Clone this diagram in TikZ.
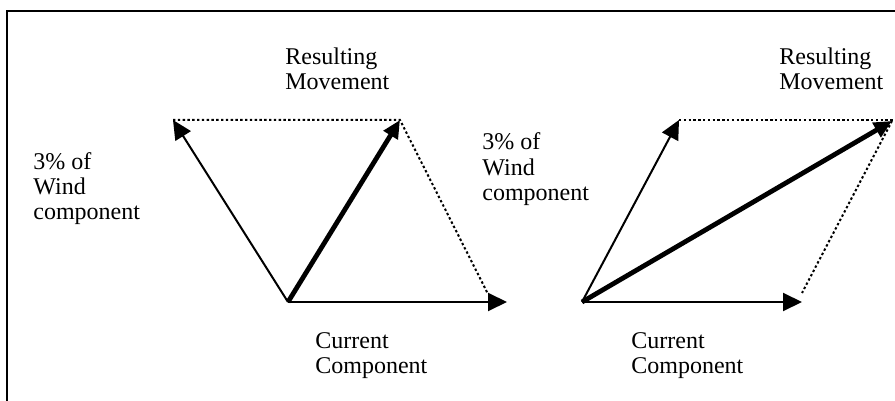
\documentclass[tikz,border=0pt]{standalone}
\usepackage{fontspec}
\setmainfont{Liberation Serif}
\usetikzlibrary{arrows.meta}

\begin{document}
\begin{tikzpicture}[x=0.5pt,y=-0.5pt,
    vec/.style={line width=1pt,-{Triangle[length=9.5pt,width=9pt]}},
    resvec/.style={line width=2.4pt,-{Triangle[length=9pt,width=8pt]}},
    guide/.style={line width=1pt,dash pattern=on 1.2pt off 1.2pt},
    lbl/.style={inner sep=0pt,anchor=base west,align=left,font=\fontsize{12}{12.5}\selectfont}]
    \useasboundingbox (0,0) rectangle (895,401);

    % frame (only top and left edge show)
    \draw[line width=1pt] (7,401) -- (7,11) -- (895,11);

    %Left
    \coordinate (oL) at (288,302);
    \coordinate (curL) at (507,302);
    \coordinate (windL) at (173,120);
    \coordinate (resL) at (400,120);
    \coordinate (endL) at (488,294);
    \draw[guide] (windL) -- (resL) -- (endL);
    \draw[vec] (oL) -- (curL);
    \draw[vec] (oL) -- (windL);
    \draw[resvec] (oL) -- (resL);
    % base anchor sits on the last line
    \node[lbl] (resultL) at (285,90) {Resulting\\Movement};
    \node[lbl] (windtxtL) at (33,220) {3\% of\\Wind\\component};
    \node[lbl] (curtxtL) at (315,373) {Current\\Component};

    %Right
    \coordinate (oR) at (582,302);
    \coordinate (curR) at (802,302);
    \coordinate (windR) at (679,120);
    \coordinate (resR) at (892,121);
    \coordinate (endR) at (802,293);
    \draw[guide] (windR) -- (895,120);
    \draw[guide] (resR) -- (endR);
    \draw[vec] (oR) -- (curR);
    \draw[vec] (oR) -- (windR);
    \draw[resvec] (oR) -- (resR);
    \node[lbl] (resultR) at (779,90) {Resulting\\Movement};
    \node[lbl] (windtxtR) at (482,200) {3\% of\\Wind\\component};
    \node[lbl] (curtxtR) at (631,373) {Current\\Component};
\end{tikzpicture}
\end{document}
